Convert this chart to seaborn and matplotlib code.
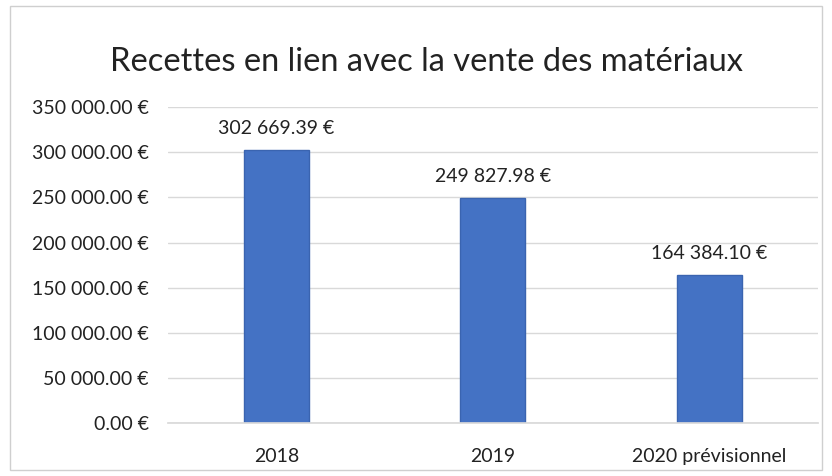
import matplotlib
matplotlib.use("Agg")
import matplotlib.pyplot as plt
import pandas as pd
import seaborn as sns
from matplotlib.patches import Rectangle
from matplotlib.ticker import FuncFormatter

categories = ["2018", "2019", "2020 prévisionnel"]
recettes = [302669.39, 249827.98, 164384.10]
y_ticks = [0, 50000, 100000, 150000, 200000, 250000, 300000, 350000]
title = "Recettes en lien avec la vente des matériaux"


def euro(v, _pos=None):
    s = f"{v:,.2f}".replace(",", " ")
    return f"{s} €"


def main() -> None:
    sns.set_theme(style="white")
    plt.rcParams["font.family"] = ["Lato", "DejaVu Sans"]

    df = pd.DataFrame({"annee": categories, "recettes": recettes})

    fig = plt.figure(figsize=(8.32, 4.76), dpi=100)
    ax = fig.add_axes([0.202, 0.111, 0.781, 0.664])
    sns.barplot(data=df, x="annee", y="recettes", color="#4472C4",
                saturation=1, width=0.30, edgecolor="#3a64b0", linewidth=1, ax=ax)

    ax.set_ylim(0, 350000)
    ax.set_xlim(-0.5, 2.5)
    ax.set_yticks(y_ticks)
    ax.yaxis.set_major_formatter(FuncFormatter(euro))
    ax.grid(axis="y", color="#d9d9d9", linewidth=1)
    ax.set_axisbelow(True)
    for side in ["top", "right", "left"]:
        ax.spines[side].set_visible(False)
    ax.spines["bottom"].set_color("#d9d9d9")
    ax.tick_params(axis="both", length=0, labelsize=14, colors="#222222")
    ax.tick_params(axis="y", pad=14)
    ax.tick_params(axis="x", pad=18)
    ax.set_xlabel("")
    ax.set_ylabel("")

    for i, v in enumerate(recettes):
        ax.annotate(euro(v), (i, v), xytext=(0, 9), textcoords="offset points",
                    ha="center", va="bottom", fontsize=14, color="#222222")

    fig.text(0.513, 0.87, title, ha="center", va="center", fontsize=23.5, color="#222222")
    fig.patches.append(Rectangle((0.012, 0.012), 0.976, 0.976, transform=fig.transFigure,
                                 fill=False, edgecolor="#cfcfcf", linewidth=1))

    fig.savefig("out.png", dpi=100)
    plt.close(fig)


if __name__ == "__main__":
    main()
